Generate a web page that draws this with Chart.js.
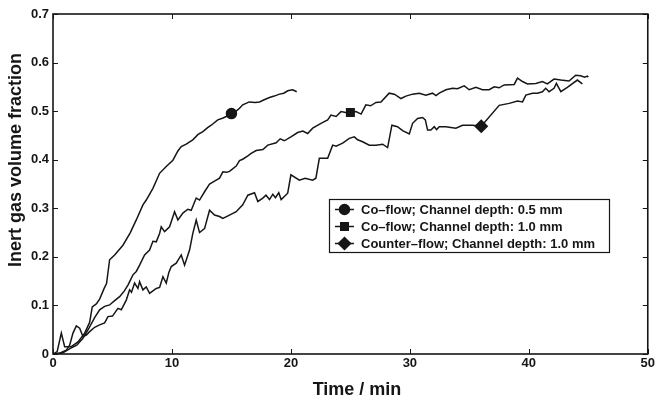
<!DOCTYPE html>
<html>
<head>
<meta charset="utf-8">
<script src="https://cdn.jsdelivr.net/npm/chart.js@4.4.1/dist/chart.umd.min.js"></script>
<style>
  html, body { margin: 0; padding: 0; background: #fff; }
  #wrap { width: 657px; height: 404px; }
</style>
</head>
<body>
<div id="wrap"><canvas id="gasChart"></canvas></div>
<script>
// series labels and marker positions
const seriesNames = ['Co\u2013flow; Channel depth: 0.5 mm', 'Co\u2013flow; Channel depth: 1.0 mm', 'Counter\u2013flow; Channel depth: 1.0 mm'];
const markerStyles = ['circle', 'rect', 'rectRot'];
const markerTimes = [15, 25, 36];

const xTicks = [0, 10, 20, 30, 40, 50];
const yTicks = [0, 0.1, 0.2, 0.3, 0.4, 0.5, 0.6, 0.7];

// Co-flow, 0.5 mm
const t1 = [0, 0.35, 0.7, 0.98, 1.54, 2.1, 2.66, 3.08, 3.3, 3.64, 3.92, 4.3, 4.5, 4.76, 5.18, 5.88, 6.5, 7.0, 7.56, 7.84,
  8.4, 8.96, 9.52, 10.08, 10.5, 10.78, 11.2, 11.75, 12.2, 12.6, 13.0, 13.3, 13.85, 14.3, 14.56, 15.0, 15.4, 15.68, 15.95, 16.5,
  17.0, 17.36, 17.8, 18.2, 18.6, 19.04, 19.4, 19.73, 20.15, 20.49];
const v1 = [0, 0.005, 0.043, 0.015, 0.015, 0.025, 0.043, 0.065, 0.097, 0.103, 0.113, 0.135, 0.145, 0.194, 0.204, 0.224, 0.25, 0.276, 0.307, 0.317,
  0.341, 0.372, 0.386, 0.399, 0.418, 0.427, 0.432, 0.441, 0.452, 0.458, 0.466, 0.471, 0.482, 0.486, 0.489, 0.495, 0.5, 0.506, 0.513, 0.519,
  0.518, 0.519, 0.524, 0.528, 0.531, 0.535, 0.537, 0.542, 0.544, 0.54];

// Co-flow, 1.0 mm
const t2 = [0, 0.8, 1.5, 2.0, 2.5, 3.0, 3.5, 3.92, 4.34, 4.76, 5.18, 5.6, 6.0, 6.3, 6.72, 7.0, 7.28, 7.7, 8.12, 8.4,
  8.68, 8.96, 9.1, 9.38, 9.8, 10.22, 10.5, 10.92, 11.33, 11.62, 12.04, 12.32, 12.74, 13.16, 13.58, 14.0, 14.28, 14.6, 14.84, 15.4,
  15.68, 15.95, 16.38, 16.66, 17.08, 17.64, 18.06, 18.76, 19.1, 19.45, 20.0, 20.57, 21.0, 21.41, 21.83, 22.53, 23.09, 23.37, 23.8, 24.21,
  24.6, 25.0, 25.47, 25.9, 26.3, 26.7, 27.15, 27.57, 28.26, 28.7, 29.25, 29.67, 30.23, 30.79, 31.35, 31.9, 32.2, 32.47, 33.03, 33.59,
  34.0, 34.57, 34.99, 35.55, 36.1, 36.67, 37.09, 37.5, 37.93, 38.77, 39.05, 39.47, 39.89, 40.59, 41.14, 41.56, 42.12, 42.69, 43.38, 43.94,
  44.36, 44.7, 44.92, 45.0];
const v2 = [0, 0.002, 0.012, 0.018, 0.032, 0.052, 0.075, 0.091, 0.098, 0.101, 0.11, 0.118, 0.13, 0.142, 0.163, 0.17, 0.183, 0.204, 0.214, 0.232,
  0.231, 0.248, 0.262, 0.252, 0.262, 0.293, 0.276, 0.29, 0.298, 0.296, 0.321, 0.317, 0.334, 0.35, 0.356, 0.362, 0.375, 0.374, 0.376, 0.387,
  0.398, 0.401, 0.408, 0.413, 0.419, 0.421, 0.43, 0.435, 0.443, 0.439, 0.447, 0.456, 0.459, 0.454, 0.465, 0.475, 0.482, 0.492, 0.489, 0.499,
  0.497, 0.497, 0.499, 0.494, 0.513, 0.511, 0.518, 0.519, 0.537, 0.535, 0.526, 0.531, 0.535, 0.537, 0.533, 0.537, 0.532, 0.537, 0.544, 0.547,
  0.546, 0.552, 0.544, 0.549, 0.544, 0.544, 0.55, 0.548, 0.554, 0.555, 0.568, 0.561, 0.556, 0.557, 0.561, 0.556, 0.566, 0.564, 0.562, 0.574,
  0.573, 0.57, 0.572, 0.57];

// Counter-flow, 1.0 mm
const t3 = [0, 0.6, 1.12, 1.4, 1.68, 1.96, 2.24, 2.52, 2.8, 3.08, 3.5, 3.92, 4.34, 4.62, 5.0, 5.46, 5.74, 6.16, 6.44, 6.6,
  6.86, 7.14, 7.28, 7.56, 7.84, 8.12, 8.4, 8.68, 8.96, 9.24, 9.52, 9.74, 9.94, 10.36, 10.78, 11.06, 11.48, 11.75, 12.04, 12.32,
  12.74, 13.16, 13.58, 14.0, 14.28, 14.84, 15.4, 15.95, 16.38, 16.94, 17.22, 17.64, 17.9, 18.2, 18.48, 18.7, 18.98, 19.18, 19.73, 20.0,
  20.71, 21.2, 21.83, 22.1, 22.39, 23.09, 23.51, 23.8, 24.35, 24.91, 25.33, 25.61, 26.03, 26.59, 27.15, 27.71, 28.13, 28.49, 28.96, 29.39,
  29.95, 30.23, 30.65, 31.07, 31.3, 31.49, 31.77, 32.05, 32.25, 32.47, 33.03, 33.87, 34.43, 35.27, 36.0, 37.51, 38.35, 39.05, 39.47, 39.75,
  40.31, 40.73, 41.14, 41.42, 41.7, 42.12, 42.32, 42.69, 43.24, 44.08, 44.5];
const v3 = [0, 0.002, 0.008, 0.018, 0.043, 0.058, 0.053, 0.036, 0.039, 0.046, 0.055, 0.06, 0.064, 0.077, 0.078, 0.094, 0.091, 0.111, 0.132, 0.127,
  0.146, 0.135, 0.149, 0.132, 0.138, 0.125, 0.13, 0.135, 0.137, 0.159, 0.146, 0.168, 0.18, 0.187, 0.204, 0.183, 0.214, 0.248, 0.276, 0.25,
  0.258, 0.296, 0.286, 0.283, 0.279, 0.286, 0.293, 0.307, 0.327, 0.332, 0.314, 0.321, 0.327, 0.318, 0.329, 0.322, 0.332, 0.318, 0.331, 0.369,
  0.358, 0.362, 0.358, 0.362, 0.403, 0.403, 0.43, 0.428, 0.434, 0.444, 0.447, 0.441, 0.437, 0.43, 0.43, 0.432, 0.425, 0.471, 0.468, 0.46,
  0.453, 0.475, 0.485, 0.487, 0.482, 0.461, 0.461, 0.468, 0.462, 0.468, 0.468, 0.465, 0.471, 0.471, 0.469, 0.512, 0.516, 0.521, 0.519, 0.533,
  0.537, 0.537, 0.54, 0.547, 0.54, 0.547, 0.557, 0.54, 0.549, 0.564, 0.556];

const ink = '#161616';
const markerSizes = [5, 5.3, 6];

function toPoints(ts, vs) {
    return ts.map((t, i) => ({ x: t, y: vs[i] }));
}

const allSeries = [[t1, v1], [t2, v2], [t3, v3]];

const datasets = allSeries.map((s, k) => ({
    label: seriesNames[k],
    data: toPoints(s[0], s[1]),
    showLine: true,
    borderColor: ink,
    backgroundColor: ink,
    borderWidth: 1.5,
    tension: 0,
    pointStyle: markerStyles[k],
    pointRadius: ctx => (ctx.raw && ctx.raw.x === markerTimes[k]) ? markerSizes[k] : 0,
    pointHoverRadius: 0
}));

// frame, inward ticks, axis titles and legend box
const decorations = {
    id: 'decorations',
    afterDatasetsDraw(chart) {
        const ctx = chart.ctx;
        const a = chart.chartArea;
        const xs = chart.scales.x, ys = chart.scales.y;
        ctx.save();
        ctx.strokeStyle = ink;
        ctx.lineWidth = 1;
        ctx.beginPath();
        xTicks.forEach(v => {
            const px = Math.round(xs.getPixelForValue(v)) + 0.5;
            ctx.moveTo(px, a.bottom); ctx.lineTo(px, a.bottom - 5);
            ctx.moveTo(px, a.top); ctx.lineTo(px, a.top + 5);
        });
        yTicks.forEach(v => {
            const py = Math.round(ys.getPixelForValue(v)) + 0.5;
            ctx.moveTo(a.left, py); ctx.lineTo(a.left + 5, py);
            ctx.moveTo(a.right, py); ctx.lineTo(a.right - 5, py);
        });
        ctx.stroke();
        ctx.lineWidth = 1.6;
        ctx.strokeRect(a.left, a.top, a.right - a.left, a.bottom - a.top);

        // axis titles
        ctx.fillStyle = ink;
        ctx.font = 'bold 18px "Liberation Sans", Arial, sans-serif';
        ctx.textAlign = 'center';
        ctx.textBaseline = 'middle';
        ctx.fillText('Time / min', 357, 390);
        ctx.save();
        ctx.translate(16, 160);
        ctx.rotate(-Math.PI / 2);
        ctx.fillText('Inert gas volume fraction', 0, 0);
        ctx.restore();

        // legend
        const box = { x: 329.5, y: 199.5, w: 280, h: 53 };
        ctx.fillStyle = '#fff';
        ctx.fillRect(box.x, box.y, box.w, box.h);
        ctx.lineWidth = 1.2;
        ctx.strokeStyle = ink;
        ctx.strokeRect(box.x, box.y, box.w, box.h);
        ctx.font = 'bold 13px "Liberation Sans", Arial, sans-serif';
        ctx.textAlign = 'left';
        seriesNames.forEach((name, k) => {
            const ry = 209.5 + k * 17;
            ctx.lineWidth = 1.5;
            ctx.beginPath();
            ctx.moveTo(335, ry); ctx.lineTo(354, ry);
            ctx.stroke();
            ctx.fillStyle = ink;
            Chart.helpers.drawPoint(ctx, { pointStyle: markerStyles[k], radius: markerSizes[k], borderWidth: 1 }, 344.5, ry);
            ctx.fillText(name, 361, ry + 0.5);
        });
        ctx.restore();
    }
};

new Chart(document.getElementById('gasChart'), {
    type: 'scatter',
    data: { datasets: datasets },
    options: {
        responsive: true,
        maintainAspectRatio: false,
        animation: false,
        layout: { padding: { top: 14, right: 8, left: 0, bottom: 0 } },
        plugins: { legend: { display: false }, tooltip: { enabled: false } },
        scales: {
            x: {
                type: 'linear',
                min: 0,
                max: 50,
                grid: { display: false, drawTicks: false },
                border: { display: false },
                afterBuildTicks: s => { s.ticks = xTicks.map(v => ({ value: v })); },
                afterFit: s => { s.height = 50; },
                ticks: {
                    color: ink,
                    padding: 2,
                    maxRotation: 0,
                    font: { family: '"Liberation Sans", Arial, sans-serif', size: 13, weight: 'bold' },
                    callback: v => String(v)
                }
            },
            y: {
                min: 0,
                max: 0.7,
                grid: { display: false, drawTicks: false },
                border: { display: false },
                afterBuildTicks: s => { s.ticks = yTicks.map(v => ({ value: v })); },
                afterFit: s => { s.width = 53; },
                ticks: {
                    color: ink,
                    padding: 4,
                    font: { family: '"Liberation Sans", Arial, sans-serif', size: 13, weight: 'bold' },
                    callback: v => v === 0 ? '0' : v.toFixed(1)
                }
            }
        }
    },
    plugins: [decorations]
});
</script>
</body>
</html>
